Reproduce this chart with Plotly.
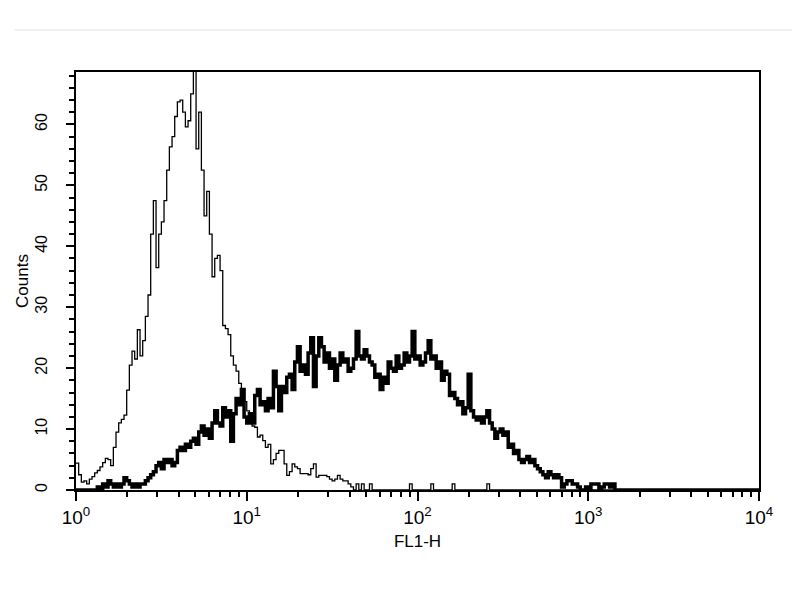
import plotly.graph_objects as go

# FL1-H histogram, 256 channels over 4 decades (64 channels per decade)
CHANNELS_PER_DECADE = 64
N_CHANNELS = 256

# Control (thin line) counts, channel 0 upward
control_counts = [
    4.4, 2.5, 1.3, 1.5, 1.0, 1.8, 2.2, 2.8, 3.2, 3.8,
    4.5, 5.2, 5.0, 4.0, 7.0, 9.5, 11.0, 11.6, 12.3, 16.4,
    20.5, 22.8, 21.5, 26.3, 22.0, 24.5, 28.5, 32.0, 42.0, 47.5,
    36.5, 42.0, 44.0, 47.5, 52.5, 56.3, 58.0, 61.3, 63.7, 64.0,
    62.0, 59.6, 60.6, 65.0, 70.0, 56.0, 62.0, 52.5, 45.0, 49.0,
    42.0, 35.0, 38.0, 38.5, 36.0, 27.0, 26.5, 25.5, 22.0, 20.5,
    19.5, 17.5, 16.0, 14.5, 13.0, 12.0, 10.5, 10.3, 8.7, 9.0,
    8.1, 7.0, 7.5, 4.3, 5.0, 6.0, 6.5, 6.5, 4.3, 2.4,
    3.0, 4.3, 3.8, 3.5, 2.7, 2.7, 2.7, 2.5, 3.5, 4.3,
    2.1, 2.4, 2.4, 2.4, 2.2, 1.8, 1.5, 1.8, 2.4, 1.8,
    1.5, 1.5, 1.0, 0.5, 0.0, 1.0, 0.0, 1.0, 0.0, 0.0,
    1.0, 0, 0, 0, 0, 0, 0, 0, 0, 0,
    0, 0, 0, 0, 0, 1, 0, 0, 0, 0,
    0, 0, 0, 1, 0, 0, 0, 0, 0, 0,
    0, 1, 0, 0, 0, 0, 0, 0, 0, 0,
    0, 0, 0, 0, 1, 0,
] + [0] * 100

# Stained sample (thick line) counts, channel 0 upward
sample_counts = [
    0, 0, 0, 0, 0, 0, 0, 0, 0.5, 0,
    1, 0.5, 1.5, 1, 0.5, 1, 0.5, 1, 2, 1.5,
    1, 0.5, 1, 0.5, 1, 1, 1.5, 2, 2.5, 3,
    4, 4.5, 3.5, 5, 4.5, 5, 4, 4.5, 6.5, 7,
    6.5, 7.5, 7, 8, 8.5, 7.5, 9.5, 10.5, 9, 10,
    8.5, 11, 13, 11, 10.5, 13.5, 12, 13, 8, 12.5,
    15, 14, 16.5, 12, 11, 12.5, 11, 15.5, 16.5, 14,
    14.5, 13, 15, 13.5, 19.5, 17, 13, 17, 16, 18.5,
    19, 16.5, 21, 23.5, 19.5, 20.5, 19, 22.5, 25, 17,
    22, 25, 23.5, 21, 22.5, 20, 21.5, 18, 20.5, 22.5,
    21, 21.5, 19.5, 20, 21.5, 26, 22, 21.5, 23, 22,
    21, 20.5, 18.5, 19, 16.5, 18.5, 17.5, 21, 20, 19.5,
    22, 20, 20.5, 22.5, 21, 22, 26, 21.5, 22, 20.5,
    21, 22.5, 24.5, 21.5, 22, 20, 21, 18, 19.5, 19,
    15.5, 16, 15, 14, 14.5, 12.5, 13.5, 19, 13, 12,
    11.5, 12, 11, 12, 13, 11, 10, 8.5, 9.5, 10,
    9, 9.5, 7, 7.5, 6, 6.5, 5, 4.5, 5, 5.5,
    4.5, 5, 4, 3.5, 3, 2.5, 2, 3, 2.5, 2,
    2.5, 2, 0.5, 1, 1.5, 1.5, 1, 1, 0.5, 0,
    0, 0.5, 0, 1, 1, 1, 0, 0.5, 1, 1,
    0.5, 1, 0,
] + [0] * 53

x_tick_text = ["10<sup>0</sup>", "10<sup>1</sup>", "10<sup>2</sup>", "10<sup>3</sup>", "10<sup>4</sup>"]
y_tick_vals = [0, 10, 20, 30, 40, 50, 60]

# channel -> FL1-H value (instrument log scale)
fl1 = [10 ** (c / CHANNELS_PER_DECADE) for c in range(N_CHANNELS + 1)]
ctrl = control_counts[:N_CHANNELS] + [control_counts[N_CHANNELS - 1]]
samp = sample_counts[:N_CHANNELS] + [sample_counts[N_CHANNELS - 1]]

fig = go.Figure()
fig.add_trace(go.Scatter(x=fl1, y=ctrl, mode="lines", line=dict(shape="hv", color="black", width=1.3),
                         showlegend=False))
fig.add_trace(go.Scatter(x=fl1, y=samp, mode="lines", line=dict(shape="hv", color="black", width=3.5),
                         showlegend=False))

x_major = [10 ** d for d in range(5)]
x_minor = [m * 10 ** d for d in range(4) for m in range(2, 10)]

font = "Liberation Sans, Arial, sans-serif"
# page body adds an 8px offset, so margins are reduced accordingly
fig.update_layout(
    width=800, height=600,
    margin=dict(l=68, r=49, t=64, b=118, autoexpand=False),
    paper_bgcolor="white", plot_bgcolor="white",
    font=dict(family=font, color="black", size=16),
    xaxis=dict(
        type="log", range=[0, 4],
        tickmode="array", tickvals=x_major, ticktext=x_tick_text,
        ticks="outside", ticklen=9, tickwidth=1.5, tickcolor="black",
        minor=dict(tickmode="array", tickvals=x_minor, ticks="outside", ticklen=5, tickwidth=1.5, tickcolor="black"),
        showline=True, linecolor="black", linewidth=2, mirror=True,
        showgrid=False, zeroline=False,
        tickfont=dict(size=19),
        title=dict(text="FL1-H", font=dict(size=17), standoff=8),
    ),
    yaxis=dict(
        range=[0, 68.6],
        tickmode="array", tickvals=y_tick_vals,
        ticks="outside", ticklen=8, tickwidth=1.5, tickcolor="black",
        minor=dict(dtick=2, ticks="outside", ticklen=5, tickwidth=1.5, tickcolor="black"),
        showline=True, linecolor="black", linewidth=2, mirror=True,
        showgrid=False, zeroline=False,
        tickangle=-90, tickfont=dict(size=16), ticklabelstandoff=13,
        title=dict(text="Counts", font=dict(size=17), standoff=0),
    ),
    shapes=[
        dict(type="line", xref="paper", yref="paper", x0=-0.09, x1=1.07,
             y0=(600 - 22 - 118) / 418, y1=(600 - 22 - 118) / 418,
             line=dict(color="#ececec", width=1.5)),
    ],
)

fig.write_html("out.html")
